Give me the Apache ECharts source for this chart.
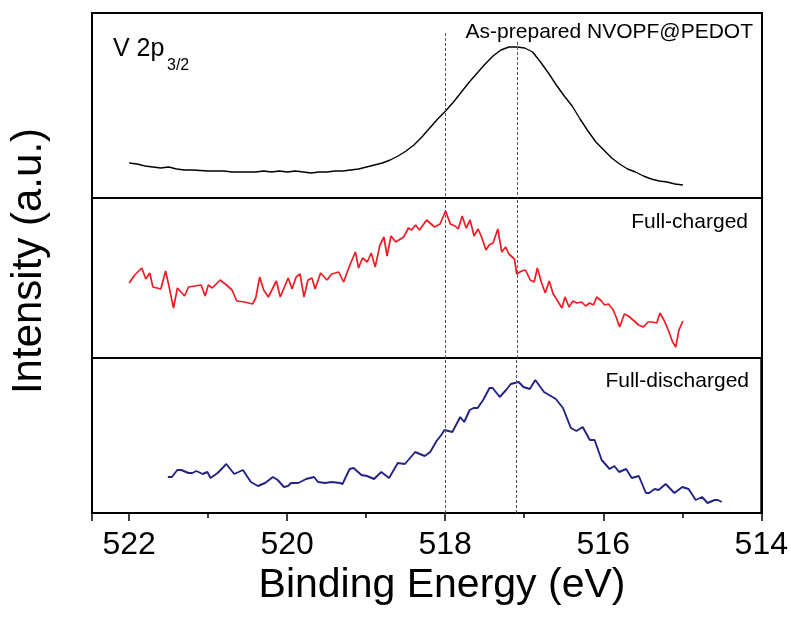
<!DOCTYPE html>
<html><head><meta charset="utf-8">
<script src="https://cdn.jsdelivr.net/npm/echarts@6/dist/echarts.min.js"></script>
<style>html,body{margin:0;padding:0;background:#fff}#c{width:791px;height:617px}</style>
</head><body><div id="c"></div>
<script>
const xTicks = [522, 520, 518, 516, 514];
const refLines = [518.0, 517.1];
const panelLabels = ['As-prepared NVOPF@PEDOT', 'Full-charged', 'Full-discharged'];

const blackEnergy = [522.0,521.9,521.8,521.7,521.6,521.5,521.4,521.3,521.2,521.1,521.0,520.9,520.8,520.7,520.6,520.5,520.4,520.3,520.2,520.1,520.0,519.9,519.8,519.7,519.6,519.5,519.4,519.3,519.2,519.1,519.0,518.9,518.8,518.7,518.6,518.5,518.4,518.3,518.2,518.1,518.0,517.9,517.8,517.7,517.6,517.5,517.4,517.3,517.2,517.1,517.0,516.9,516.8,516.7,516.6,516.5,516.4,516.3,516.2,516.1,516.0,515.9,515.8,515.7,515.6,515.5,515.4,515.3,515.2,515.1,515.0];
const blackIntensity = [35,34,32,31,30,31,29,28,28,27.5,27,27,27,26,26,26,26,27,26,27,26,27,26,25,26,26,27,27,28,29,31,33,35,38,42,47,53,61,70,79,87,96,106,116,125,134,142,148,151,151,150,146,136,125,113,102,92,79,67,56,48,40,34,29,26,22,19,17,16,14,13];

const redEnergy = [522.00,521.93,521.84,521.79,521.74,521.70,521.60,521.54,521.50,521.44,521.39,521.30,521.25,521.09,521.04,521.00,520.95,520.85,520.77,520.70,520.64,520.54,520.44,520.40,520.35,520.30,520.24,520.14,520.09,519.99,519.94,519.89,519.84,519.79,519.74,519.69,519.65,519.58,519.50,519.44,519.35,519.29,519.21,519.14,519.10,519.05,518.99,518.94,518.89,518.83,518.78,518.74,518.69,518.63,518.53,518.47,518.43,518.38,518.33,518.24,518.14,518.07,518.00,517.94,517.88,517.84,517.79,517.74,517.69,517.64,517.59,517.55,517.49,517.45,517.40,517.34,517.29,517.24,517.20,517.13,517.10,517.04,516.99,516.93,516.88,516.84,516.79,516.74,516.69,516.64,516.59,516.53,516.49,516.44,516.39,516.34,516.28,516.23,516.18,516.13,516.09,516.03,515.99,515.94,515.88,515.84,515.80,515.74,515.69,515.63,515.56,515.50,515.44,515.39,515.33,515.29,515.24,515.18,515.13,515.09,515.05,515.00];
const redIntensity = [75,83,90,79,85,71,69,87,73,50,70,62,71,73,62,73,70,78,73,68,57,56,54,60,81,68,61,77,61,80,69,81,84,61,78,80,69,85,78,84,86,76,93,106,90,100,96,105,91,113,121,102,122,116,121,130,128,133,128,138,131,134,147,134,132,129,142,130,138,122,129,122,108,113,115,129,106,111,104,99,84,87,88,78,76,90,76,65,77,64,58,50,61,51,57,55,56,52,55,53,61,57,53,54,48,40,31,44,42,38,33,31,36,36,35,45,38,27,16,11,28,37];

const blueEnergy = [521.51,521.46,521.39,521.34,521.25,521.20,521.15,521.07,521.01,520.97,520.88,520.77,520.67,520.56,520.46,520.37,520.28,520.18,520.12,520.04,519.99,519.95,519.86,519.76,519.66,519.61,519.52,519.44,519.33,519.30,519.21,519.16,519.06,518.99,518.90,518.81,518.71,518.60,518.51,518.38,518.26,518.19,518.11,518.05,518.01,517.91,517.81,517.76,517.69,517.64,517.59,517.52,517.44,517.40,517.31,517.23,517.17,517.07,517.01,516.93,516.86,516.75,516.60,516.51,516.41,516.34,516.26,516.17,516.11,516.02,515.92,515.86,515.80,515.71,515.64,515.55,515.46,515.42,515.35,515.30,515.21,515.10,515.00,514.92,514.83,514.75,514.68,514.59,514.55,514.50];
const blueIntensity = [36,36,43,43,40,40,42,39,41,35,40,49,39,43,31,27,30,36,33,26,27,30,30,34,36,31,30,31,30,29,44,45,38,37,34,41,35,50,49,61,57,61,72,78,83,81,96,91,103,105,105,113,125,125,116,123,129,131,126,124,133,121,114,105,85,82,86,73,73,53,44,47,41,44,35,37,20,20,24,23,29,20,26,24,13,16,10,13,13,11];

const FONT = '"Liberation Sans", Arial, Helvetica, sans-serif';
const pairs = (xs, ys) => xs.map((x, i) => [x, ys[i]]);

const xMin = 514, xMax = 522.47;
const grids = [
  {left: 92, right: 29, top: 13, height: 185},
  {left: 92, right: 29, top: 198, height: 160},
  {left: 92, right: 29, top: 358, height: 155}
].map(g => Object.assign(g, {show: true, borderColor: '#000', borderWidth: 2, backgroundColor: 'transparent'}));
const yMax = [185, 160, 155];

const xAxes = [0, 1, 2].map(i => ({
  type: 'value', gridIndex: i, min: xMin, max: xMax, inverse: true, interval: 2,
  show: i === 2,
  axisLine: {show: true, onZero: false, lineStyle: {color: '#000', width: 2}},
  axisTick: {show: true, inside: false, length: 8, lineStyle: {color: '#000', width: 1.5}},
  minorTick: {show: true, splitNumber: 2, length: 5, lineStyle: {color: '#000', width: 1.5}},
  splitLine: {show: false},
  axisLabel: {show: true, fontFamily: FONT, fontSize: 32, color: '#000', margin: 16, showMaxLabel: false,
    formatter: v => xTicks.includes(v) ? String(v) : ''}
}));
const yAxes = [];
[0, 1, 2].forEach(i => {
  ['left', 'right'].forEach(pos => {
    yAxes.push({
      type: 'value', gridIndex: i, min: 0, max: yMax[i], position: pos,
      axisLine: {show: true, onZero: false, lineStyle: {color: '#000', width: 2}},
      axisTick: {show: false}, axisLabel: {show: false}, splitLine: {show: false}
    });
  });
});

const dashStyle = {color: '#555', width: 1, type: [3, 2]};
const topMarks = [
  [{coord: [refLines[0], 165]}, {coord: [refLines[0], 0]}],
  [{coord: [refLines[1], 156]}, {coord: [refLines[1], 0]}]
];
const fullMarks = refLines.map(v => ({xAxis: v}));

const lineColors = ['#000000', '#ee1c24', '#232385'];
const lineWidths = [1.4, 1.7, 1.9];
const dataSets = [pairs(blackEnergy, blackIntensity), pairs(redEnergy, redIntensity), pairs(blueEnergy, blueIntensity)];

const series = dataSets.map((d, i) => ({
  type: 'line', xAxisIndex: i, yAxisIndex: i * 2, data: d, showSymbol: false, symbol: 'none',
  lineStyle: {color: lineColors[i], width: lineWidths[i]}, itemStyle: {color: lineColors[i]},
  markLine: {silent: true, symbol: 'none', label: {show: false}, lineStyle: dashStyle, animation: false,
    data: i === 0 ? topMarks : fullMarks}
}));

const textStyle = (o) => Object.assign({fontFamily: FONT, fill: '#000'}, o);
const graphic = [
  {type: 'text', x: 29, y: 261, rotation: Math.PI / 2, z: 100,
    style: textStyle({text: 'Intensity (a.u.)', fontSize: 42, textAlign: 'center', textVerticalAlign: 'middle'})},
  {type: 'text', x: 442, y: 586, z: 100,
    style: textStyle({text: 'Binding Energy (eV)', fontSize: 41, textAlign: 'center', textVerticalAlign: 'middle'})},
  {type: 'text', x: 113, y: 49, z: 100,
    style: textStyle({text: 'V 2p', fontSize: 25, textAlign: 'left', textVerticalAlign: 'middle'})},
  {type: 'text', x: 167, y: 66, z: 100,
    style: textStyle({text: '3/2', fontSize: 16, textAlign: 'left', textVerticalAlign: 'middle'})},
  {type: 'text', x: 753, y: 32, z: 100,
    style: textStyle({text: panelLabels[0], fontSize: 21, textAlign: 'right', textVerticalAlign: 'middle'})},
  {type: 'text', x: 748, y: 222.5, z: 100,
    style: textStyle({text: panelLabels[1], fontSize: 21, textAlign: 'right', textVerticalAlign: 'middle'})},
  {type: 'text', x: 749, y: 381.5, z: 100,
    style: textStyle({text: panelLabels[2], fontSize: 21, textAlign: 'right', textVerticalAlign: 'middle'})}
];

const chart = echarts.init(document.getElementById('c'), null, {renderer: 'canvas'});
chart.setOption({
  animation: false,
  backgroundColor: '#fff',
  grid: grids,
  xAxis: xAxes,
  yAxis: yAxes,
  series: series,
  graphic: graphic
});
</script>
</body></html>
